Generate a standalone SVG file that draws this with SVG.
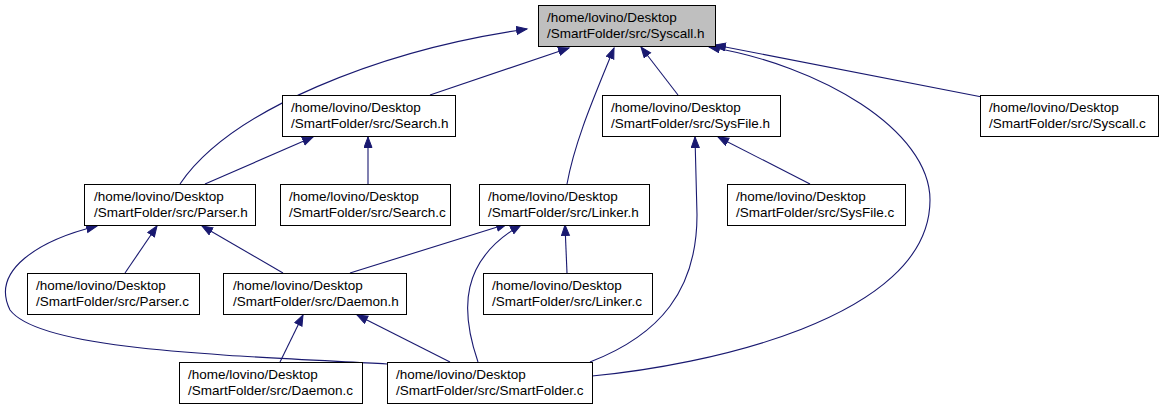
<svg xmlns="http://www.w3.org/2000/svg" width="1164" height="409" viewBox="0 0 1164 409">
<defs>
<style>
.n rect{fill:#ffffff;stroke:#000000;stroke-width:1}
.n.root rect{fill:#bfbfbf}
.n text{font-family:"Liberation Sans",Arial,sans-serif;font-size:13.5px;fill:#000000}
.e path{fill:none;stroke:#191970;stroke-width:1.1;marker-end:url(#arr)}
</style>
<marker id="arr" markerWidth="13" markerHeight="10" refX="11" refY="4.5" orient="auto" markerUnits="userSpaceOnUse">
<path d="M0.5,0.5 L11,4.5 L0.5,8.5 z" fill="#191970" stroke="#191970" stroke-width="1"/>
</marker>
</defs>
<rect width="1164" height="409" fill="#ffffff"/>
<g id="edges" class="e">
<path d="M180,184 C230,110 380,50 527,29"/>
<path d="M430,95 L569,48"/>
<path d="M567,184 C575,140 595,95 614,48"/>
<path d="M678,95 L641,47"/>
<path d="M592,376 C700,366 930,320 930,200 C930,130 820,65 709,47"/>
<path d="M982,97 L715,45"/>
<path d="M205,184 L313,137"/>
<path d="M368,184 L368,137"/>
<path d="M125,273 L157,226"/>
<path d="M283,273 L202,226"/>
<path d="M387,364 C220,355 40,350 10,310 C-10,270 40,240 97,226"/>
<path d="M350,273 L507,224"/>
<path d="M478,362 C460,310 460,260 521,225"/>
<path d="M567,273 L565,225"/>
<path d="M590,362 C660,335 697,290 697,215 L695,137"/>
<path d="M810,184 L718,137"/>
<path d="M280,362 L303,315"/>
<path d="M450,362 L357,315"/>
</g>
<g id="syscall_h" class="n root"><rect x="538.5" y="5.5" width="177" height="41"/><text x="547" y="22">/home/lovino/Desktop</text><text x="547" y="38">/SmartFolder/src/Syscall.h</text></g>
<g id="search_h" class="n"><rect x="282.5" y="95.5" width="173" height="41"/><text x="291" y="112">/home/lovino/Desktop</text><text x="291" y="128">/SmartFolder/src/Search.h</text></g>
<g id="sysfile_h" class="n"><rect x="602.5" y="95.5" width="178" height="41"/><text x="611" y="112">/home/lovino/Desktop</text><text x="611" y="128">/SmartFolder/src/SysFile.h</text></g>
<g id="syscall_c" class="n"><rect x="980.5" y="95.5" width="178" height="41"/><text x="989" y="112">/home/lovino/Desktop</text><text x="989" y="128">/SmartFolder/src/Syscall.c</text></g>
<g id="parser_h" class="n"><rect x="84.5" y="184.5" width="171" height="41"/><text x="94" y="201">/home/lovino/Desktop</text><text x="94" y="217">/SmartFolder/src/Parser.h</text></g>
<g id="search_c" class="n"><rect x="280.5" y="184.5" width="170" height="41"/><text x="289" y="201">/home/lovino/Desktop</text><text x="289" y="217">/SmartFolder/src/Search.c</text></g>
<g id="linker_h" class="n"><rect x="479.5" y="184.5" width="170" height="41"/><text x="488" y="201">/home/lovino/Desktop</text><text x="488" y="217">/SmartFolder/src/Linker.h</text></g>
<g id="sysfile_c" class="n"><rect x="727.5" y="184.5" width="178" height="41"/><text x="736" y="201">/home/lovino/Desktop</text><text x="736" y="217">/SmartFolder/src/SysFile.c</text></g>
<g id="parser_c" class="n"><rect x="27.5" y="273.5" width="172" height="41"/><text x="36" y="290">/home/lovino/Desktop</text><text x="36" y="306">/SmartFolder/src/Parser.c</text></g>
<g id="daemon_h" class="n"><rect x="223.5" y="273.5" width="183" height="41"/><text x="233" y="290">/home/lovino/Desktop</text><text x="233" y="306">/SmartFolder/src/Daemon.h</text></g>
<g id="linker_c" class="n"><rect x="483.5" y="273.5" width="169" height="41"/><text x="492" y="290">/home/lovino/Desktop</text><text x="492" y="306">/SmartFolder/src/Linker.c</text></g>
<g id="daemon_c" class="n"><rect x="179.5" y="362.5" width="183" height="41"/><text x="188" y="379">/home/lovino/Desktop</text><text x="188" y="395">/SmartFolder/src/Daemon.c</text></g>
<g id="smartfolder_c" class="n"><rect x="387.5" y="362.5" width="205" height="41"/><text x="396" y="379">/home/lovino/Desktop</text><text x="396" y="395">/SmartFolder/src/SmartFolder.c</text></g>
</svg>
